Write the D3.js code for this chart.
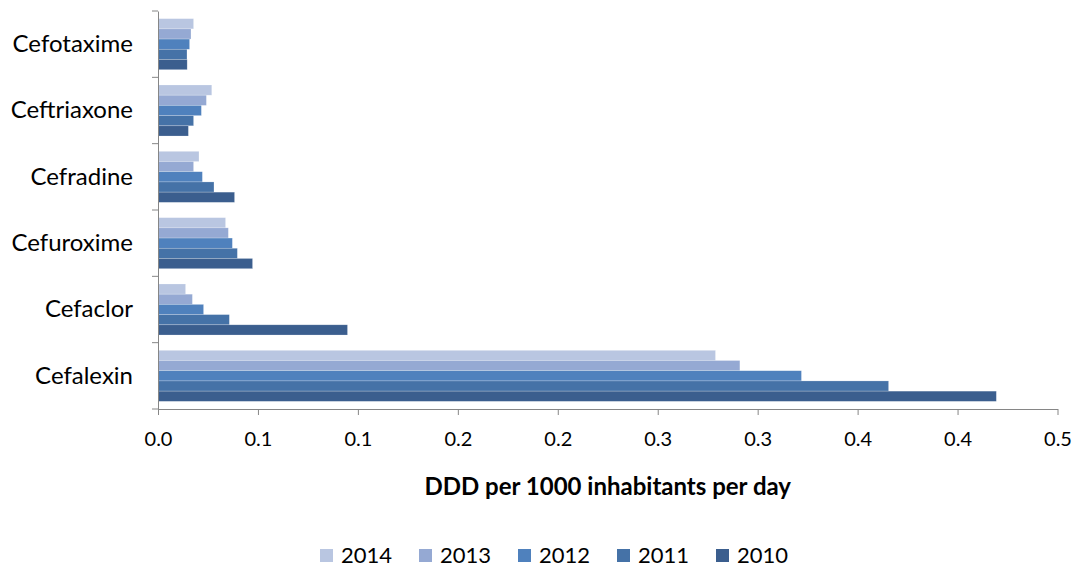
<!DOCTYPE html>
<html><head><meta charset="utf-8">
<script src="https://cdn.jsdelivr.net/npm/d3@7"></script>
<style>
html,body{margin:0;padding:0;background:#fff;}
svg{display:block;font-family:Lato,"Open Sans",sans-serif;}
</style></head>
<body>
<svg id="chart" width="1077" height="570"></svg>
<script>
const categories = ["Cefotaxime","Ceftriaxone","Cefradine","Cefuroxime","Cefaclor","Cefalexin"];
const years = ["2014","2013","2012","2011","2010"];
const v2014 = [0.0178,0.0269,0.0205,0.0338,0.0138,0.2789];
const v2013 = [0.0165,0.0242,0.0178,0.0352,0.0172,0.2911];
const v2012 = [0.0158,0.0217,0.0222,0.0372,0.0228,0.3219];
const v2011 = [0.0145,0.0178,0.0280,0.0397,0.0357,0.3655];
const v2010 = [0.0146,0.0152,0.0383,0.0473,0.0948,0.4194];
const tickValues = [0,0.05,0.10,0.15,0.20,0.25,0.30,0.35,0.40,0.45];
const tickLabels = ["0.0","0.1","0.1","0.2","0.2","0.3","0.3","0.4","0.4","0.5"];
const colors = ["#b9c6e1","#95a9d3","#4f81bd","#4572a7","#3b5e8e"];
const series = [v2014,v2013,v2012,v2011,v2010];

const svg = d3.select("#chart");
const pL = 158, pR = 1057.5, pT = 11, pB = 409;

const x = d3.scaleLinear().domain([0,0.45]).range([pL,pR]);
const y = d3.scaleBand().domain(categories).range([pT,pB]).paddingInner(0).paddingOuter(0);
const inner = d3.scaleBand().domain(years).range([0,y.bandwidth()]).paddingInner(0).paddingOuter(0.75);

// bars
categories.forEach((c,ci)=>{
  years.forEach((yr,si)=>{
    svg.append("rect")
      .attr("x", x(0))
      .attr("y", y(c)+inner(yr))
      .attr("width", x(series[si][ci]) - x(0))
      .attr("height", inner.bandwidth())
      .attr("fill", colors[si])
      .attr("stroke","rgba(255,255,255,0.35)")
      .attr("stroke-width",0.6);
  });
});

// x axis
const xAxis = d3.axisBottom(x).tickValues(tickValues).tickFormat((d,i)=>tickLabels[i]).tickSize(6).tickSizeOuter(0).tickPadding(17);
const gx = svg.append("g").attr("transform",`translate(0,${pB})`).call(xAxis);
gx.select(".domain").attr("stroke","#868686");
gx.selectAll(".tick line").attr("stroke","#868686");
gx.selectAll(".tick text").attr("font-size",20).attr("fill","#000").attr("font-family","Lato,sans-serif");

// y axis
const yAxis = d3.axisLeft(y).tickSize(0).tickPadding(25);
const gy = svg.append("g").attr("transform",`translate(${pL},0)`).call(yAxis);
gy.select(".domain").attr("stroke","#868686");
gy.selectAll(".tick text").attr("font-size",24).attr("fill","#000").attr("font-family","Lato,sans-serif");
// boundary ticks between categories
const bounds = [pT].concat(categories.map(c=>y(c)+y.bandwidth()));
svg.append("g").selectAll("line").data(bounds).join("line")
  .attr("x1",pL-6).attr("x2",pL).attr("y1",d=>d).attr("y2",d=>d)
  .attr("stroke","#868686");

// axis title
svg.append("text").attr("x",(pL+pR)/2).attr("y",495).attr("text-anchor","middle")
  .attr("font-size",24).attr("font-weight","bold").attr("fill","#000")
  .text("DDD per 1000 inhabitants per day");

// legend
const legX = d3.scalePoint().domain(years).range([320,716]);
const lg = svg.append("g").selectAll("g").data(years).join("g")
  .attr("transform",d=>`translate(${legX(d)},549)`);
lg.append("rect").attr("width",13).attr("height",13).attr("fill",(d,i)=>colors[i]);
lg.append("text").attr("x",21).attr("y",14).attr("font-size",22).attr("fill","#000").text(d=>d);
</script>
</body></html>
